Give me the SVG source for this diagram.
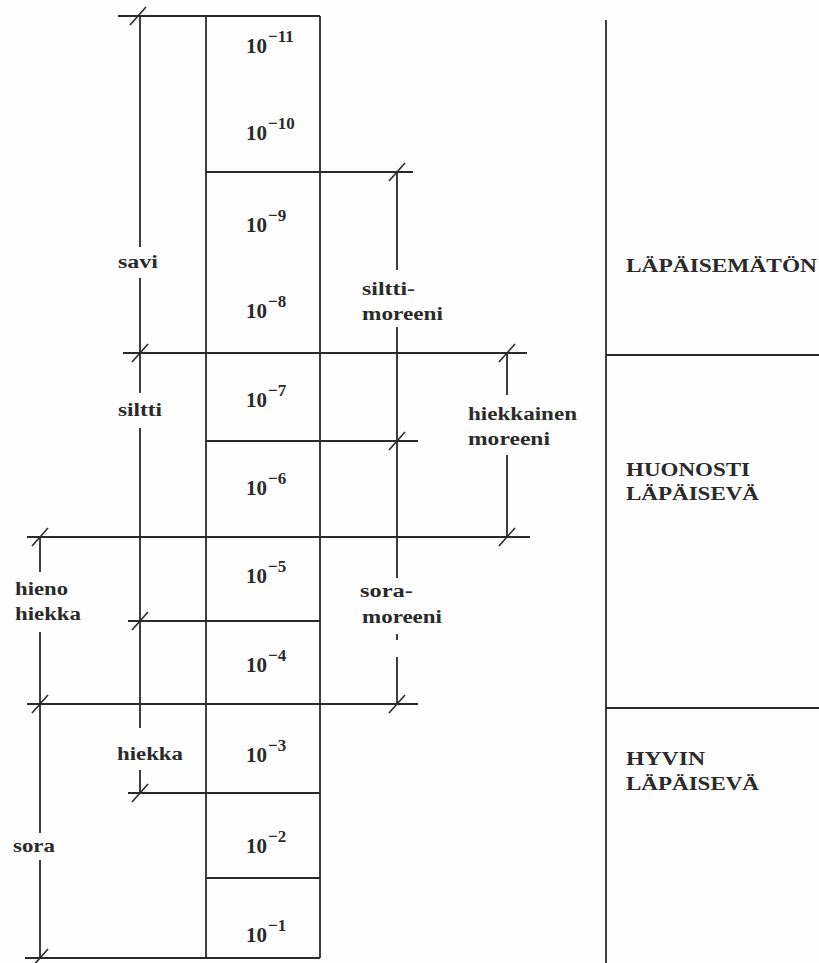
<svg xmlns="http://www.w3.org/2000/svg" xmlns:xlink="http://www.w3.org/1999/xlink" width="819" height="963" viewBox="0 0 819 963">
<defs>
<style>
.ln{stroke:#2a2a2a;stroke-width:1.8;fill:none;stroke-linecap:butt}
.tk{stroke:#2a2a2a;stroke-width:1.6;fill:none}
.num{font-family:"Liberation Serif","DejaVu Serif",serif;font-weight:bold;font-size:21px;fill:#2a2a2a}
.sup{font-size:17px}
.lb{font-family:"Liberation Serif","DejaVu Serif",serif;font-weight:bold;font-size:18px;fill:#2a2a2a}
.cap{font-family:"Liberation Serif","DejaVu Serif",serif;font-weight:bold;font-size:19px;fill:#2a2a2a}
</style>
<path id="tick" class="tk" d="M-8,9 L8,-9"/>
</defs>
<rect width="819" height="963" fill="#fefefe"/>

<g id="connectors">
  <path class="ln" d="M206,16 V958 M320,16 V958"/>
  <path class="ln" d="M118,16 H320 M206,172 H413 M123,353 H527 M206,441 H418 M27,537 H530 M128,621 H320 M27,704 H418 M128,793 H320 M206,878 H320 M25,958 H320"/>
  <path class="ln" d="M140,16 V247 M140,278 V393 M140,428 V728 M140,770 V793"/>
  <path class="ln" d="M40,537 V572 M40,632 V833 M40,860 V958"/>
  <path class="ln" d="M397,172 V270 M397,327 V578 M397,657 V704"/>
  <path class="ln" d="M397,634 V640"/>
  <path class="ln" d="M507,353 V395 M507,455 V537"/>
  <path class="ln" d="M606,20 V963 M606,355 H819 M606,708 H819"/>
  <use xlink:href="#tick" x="138" y="16"/>
  <use xlink:href="#tick" x="397" y="172"/>
  <use xlink:href="#tick" x="140" y="353"/>
  <use xlink:href="#tick" x="507" y="353"/>
  <use xlink:href="#tick" x="397" y="441"/>
  <use xlink:href="#tick" x="40" y="537"/>
  <use xlink:href="#tick" x="507" y="537"/>
  <use xlink:href="#tick" x="140" y="621"/>
  <use xlink:href="#tick" x="40" y="704"/>
  <use xlink:href="#tick" x="397" y="704"/>
  <use xlink:href="#tick" x="140" y="793"/>
  <use xlink:href="#tick" x="40" y="958"/>
</g>

<g id="scale-values">
  <text class="num" x="246" y="53">10<tspan class="sup" dy="-11" dx="1">−11</tspan></text>
  <text class="num" x="246" y="140">10<tspan class="sup" dy="-11" dx="1">−10</tspan></text>
  <text class="num" x="246" y="232">10<tspan class="sup" dy="-11" dx="1">−9</tspan></text>
  <text class="num" x="246" y="318">10<tspan class="sup" dy="-11" dx="1">−8</tspan></text>
  <text class="num" x="246" y="407">10<tspan class="sup" dy="-11" dx="1">−7</tspan></text>
  <text class="num" x="246" y="495">10<tspan class="sup" dy="-11" dx="1">−6</tspan></text>
  <text class="num" x="246" y="583">10<tspan class="sup" dy="-11" dx="1">−5</tspan></text>
  <text class="num" x="246" y="672">10<tspan class="sup" dy="-11" dx="1">−4</tspan></text>
  <text class="num" x="246" y="762">10<tspan class="sup" dy="-11" dx="1">−3</tspan></text>
  <text class="num" x="246" y="853">10<tspan class="sup" dy="-11" dx="1">−2</tspan></text>
  <text class="num" x="246" y="942">10<tspan class="sup" dy="-11" dx="1">−1</tspan></text>
</g>

<g id="savi"><text class="lb" x="118" y="268" textLength="40" lengthAdjust="spacingAndGlyphs">savi</text></g>
<g id="siltti"><text class="lb" x="118" y="416" textLength="44" lengthAdjust="spacingAndGlyphs">siltti</text></g>
<g id="hieno-hiekka">
  <text class="lb" x="15" y="595" textLength="53" lengthAdjust="spacingAndGlyphs">hieno</text>
  <text class="lb" x="15" y="620" textLength="66" lengthAdjust="spacingAndGlyphs">hiekka</text>
</g>
<g id="hiekka"><text class="lb" x="117" y="760" textLength="66" lengthAdjust="spacingAndGlyphs">hiekka</text></g>
<g id="sora"><text class="lb" x="13" y="852" textLength="42" lengthAdjust="spacingAndGlyphs">sora</text></g>
<g id="siltti-moreeni">
  <text class="lb" x="362" y="295" textLength="53" lengthAdjust="spacingAndGlyphs">siltti-</text>
  <text class="lb" x="362" y="320" textLength="81" lengthAdjust="spacingAndGlyphs">moreeni</text>
</g>
<g id="hiekkainen-moreeni">
  <text class="lb" x="468" y="420" textLength="109" lengthAdjust="spacingAndGlyphs">hiekkainen</text>
  <text class="lb" x="468" y="445" textLength="82" lengthAdjust="spacingAndGlyphs">moreeni</text>
</g>
<g id="sora-moreeni">
  <text class="lb" x="360" y="597" textLength="53" lengthAdjust="spacingAndGlyphs">sora-</text>
  <text class="lb" x="362" y="623" textLength="80" lengthAdjust="spacingAndGlyphs">moreeni</text>
</g>

<g id="lapaisematon"><text class="cap" x="626" y="272" textLength="191" lengthAdjust="spacingAndGlyphs">LÄPÄISEMÄTÖN</text></g>
<g id="huonosti-lapaiseva">
  <text class="cap" x="626" y="476" textLength="124" lengthAdjust="spacingAndGlyphs">HUONOSTI</text>
  <text class="cap" x="626" y="500" textLength="133" lengthAdjust="spacingAndGlyphs">LÄPÄISEVÄ</text>
</g>
<g id="hyvin-lapaiseva">
  <text class="cap" x="626" y="765" textLength="79" lengthAdjust="spacingAndGlyphs">HYVIN</text>
  <text class="cap" x="626" y="790" textLength="133" lengthAdjust="spacingAndGlyphs">LÄPÄISEVÄ</text>
</g>
</svg>
